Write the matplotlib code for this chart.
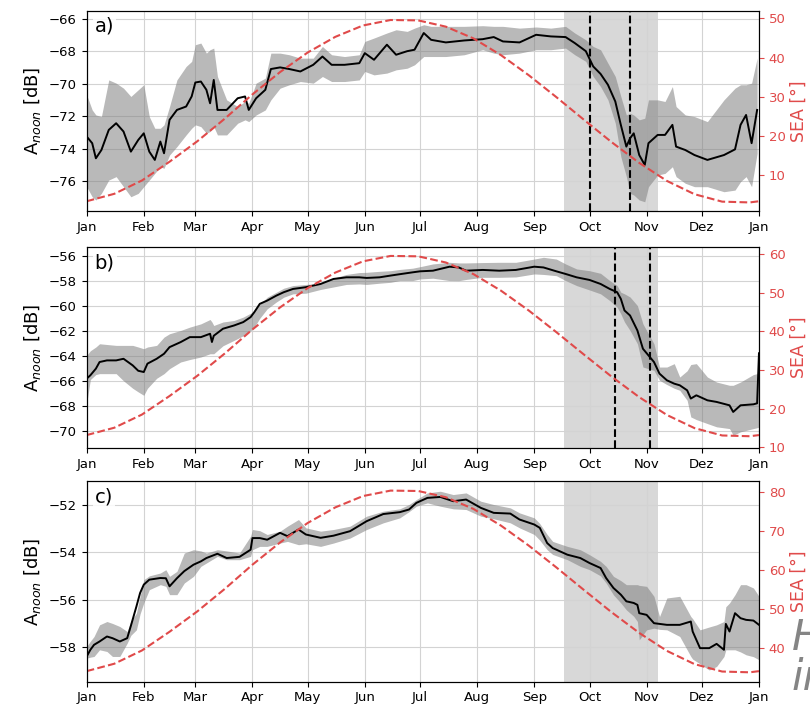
import numpy as np
import pandas as pd
import matplotlib
matplotlib.use("Agg")
import matplotlib.pyplot as plt

# seasonal noon attenuation, three stations, with SEA (solar elevation angle) on the right axis

year_start = pd.Timestamp("2021-01-01")
month_labels = ["Jan", "Feb", "Mar", "Apr", "May", "Jun", "Jul",
                "Aug", "Sep", "Oct", "Nov", "Dez", "Jan"]

# SEA at noon, read every 15 days (last point = next Jan 1)
sea_days = [0, 15, 30, 45, 60, 75, 90, 105, 120, 135, 150, 165, 180,
            195, 210, 225, 240, 255, 270, 285, 300, 315, 330, 345, 360, 365]
sea_a = [3.3, 5.2, 8.6, 13.4, 18.6, 24.4, 30.6, 36.3, 41.3, 45.3, 48.2, 49.6, 49.5,
         47.9, 44.9, 40.6, 35.5, 29.9, 24.1, 18.4, 13.1, 8.5, 5.1, 3.2, 3.0, 3.3]
sea_b = [13.2, 15.1, 18.5, 23.3, 28.5, 34.3, 40.5, 46.2, 51.2, 55.2, 58.1, 59.5, 59.4,
         57.8, 54.8, 50.5, 45.4, 39.8, 34.0, 28.3, 23.0, 18.4, 15.0, 13.1, 12.9, 13.2]
sea_c = [34.1, 36.0, 39.4, 44.2, 49.4, 55.2, 61.4, 67.1, 72.1, 76.1, 79.0, 80.4, 80.3,
         78.7, 75.7, 71.4, 66.3, 60.7, 54.9, 49.2, 43.9, 39.3, 35.9, 34.0, 33.8, 34.1]

# panel a
days_a = [0, 3, 5, 8, 12, 16, 20, 24, 28, 31, 34, 37, 40, 42, 45, 49, 54, 57, 59, 62,
          65, 67, 69, 71, 76, 82, 86, 88, 92, 97, 100, 105, 110, 116, 123, 128, 133, 140,
          148, 151, 156, 163, 168, 174, 178, 183, 187, 195, 205, 215, 221, 226, 235, 244,
          252, 260, 265, 271, 275, 279, 283, 287, 290, 293, 295, 297, 300, 303, 305, 310,
          314, 318, 320, 325, 330, 337, 346, 352, 355, 358, 361, 364]
mean_a = [-73.26, -73.67, -74.6, -74.09, -72.85, -72.44, -72.95, -74.19, -73.47, -73.06,
          -74.19, -74.7, -73.57, -74.29, -72.23, -71.62, -71.41, -70.79, -69.93, -69.87,
          -70.38, -71.21, -69.77, -71.62, -71.62, -70.9, -70.79, -71.62, -70.9, -70.38,
          -69.1, -69.0, -69.1, -69.25, -68.84, -68.33, -68.84, -68.84, -68.74, -68.12,
          -68.53, -67.6, -68.22, -68.0, -67.91, -66.88, -67.3, -67.46, -67.34, -67.26,
          -67.13, -67.4, -67.46, -66.99, -67.09, -67.13, -67.5, -68.0, -68.94, -69.4,
          -70.07, -71.1, -72.54, -73.88, -73.37, -73.06, -74.4, -75.01, -73.67, -73.16,
          -73.16, -72.54, -73.88, -74.09, -74.4, -74.7, -74.4, -74.05, -72.54, -71.93,
          -73.67, -71.62]
hi_a = [-70.69, -71.62, -71.93, -72.03, -69.77, -69.97, -70.28, -70.79, -70.38, -70.07,
        -72.03, -72.75, -72.75, -72.54, -71.41, -69.77, -68.94, -68.63, -67.6, -67.5,
        -68.12, -67.91, -67.81, -69.56, -71.0, -71.41, -71.1, -71.21, -69.97, -69.66,
        -68.12, -68.12, -68.22, -68.43, -68.43, -67.71, -68.22, -68.33, -68.22, -67.4,
        -67.19, -66.88, -66.68, -66.78, -66.58, -66.37, -66.47, -66.47, -66.47, -66.43,
        -66.47, -66.47, -66.58, -66.51, -66.58, -66.47, -66.88, -67.3, -67.71, -67.91,
        -68.74, -69.56, -70.79, -71.93, -71.82, -71.93, -72.23, -72.13, -71.0, -71.0,
        -71.1, -70.18, -71.41, -71.93, -72.03, -72.34, -71.0, -70.28, -70.07, -70.07,
        -69.97, -68.43]
lo_a = [-76.35, -76.97, -77.17, -76.76, -75.94, -75.73, -76.35, -76.97, -76.76, -76.35,
        -75.94, -75.53, -75.12, -75.22, -74.4, -73.88, -73.16, -72.75, -72.54, -72.65,
        -73.06, -72.95, -72.65, -73.16, -73.16, -72.44, -72.23, -72.34, -71.93, -71.62,
        -71.0, -70.28, -70.07, -69.87, -69.97, -69.56, -69.87, -69.87, -69.77, -69.25,
        -69.46, -69.35, -69.15, -69.05, -68.84, -68.33, -68.33, -68.33, -68.22, -67.91,
        -68.12, -68.22, -68.12, -67.91, -67.91, -67.81, -68.22, -68.63, -69.56, -70.18,
        -71.0, -72.44, -74.5, -75.73, -76.76, -76.86, -77.17, -77.28, -76.35, -75.63,
        -75.53, -75.12, -75.73, -76.14, -76.35, -76.35, -76.66, -76.56, -76.04, -75.73,
        -76.35, -74.29]

# panel b
days_b = [0, 2, 5, 7, 11, 16, 20, 25, 28, 31, 33, 38, 42, 45, 51, 56, 62, 67, 68, 69,
          74, 80, 85, 89, 91, 94, 98, 103, 107, 112, 119, 127, 134, 141, 148, 152, 159,
          165, 170, 177, 181, 188, 197, 202, 206, 215, 224, 233, 243, 248, 255, 260, 266,
          273, 279, 284, 288, 290, 292, 295, 299, 302, 308, 311, 315, 319, 322, 326, 328,
          331, 337, 342, 349, 351, 355, 362, 364, 365]
mean_b = [-65.83, -65.56, -65.03, -64.5, -64.37, -64.37, -64.24, -64.77, -65.2, -65.3,
          -64.63, -64.24, -63.84, -63.31, -62.91, -62.51, -62.51, -62.24, -62.9, -62.4,
          -61.84, -61.58, -61.31, -60.91, -60.52, -59.85, -59.59, -59.19, -58.92, -58.66,
          -58.52, -58.26, -57.86, -57.73, -57.73, -57.78, -57.73, -57.59, -57.48, -57.33,
          -57.25, -57.2, -56.88, -56.94, -57.2, -57.14, -57.2, -57.14, -56.88, -56.94,
          -57.25, -57.46, -57.73, -57.94, -58.26, -58.66, -58.92, -59.45, -60.38, -60.78,
          -61.98, -63.44, -64.5, -65.43, -65.96, -66.23, -66.36, -66.76, -67.42, -67.16,
          -67.56, -67.69, -67.96, -68.49, -67.96, -67.88, -67.8, -63.8]
hi_b = [-63.97, -63.6, -63.3, -63.04, -63.1, -63.17, -63.17, -63.17, -63.3, -63.44,
        -63.3, -63.17, -62.51, -62.24, -61.98, -61.71, -61.45, -61.1, -61.3, -61.58,
        -61.3, -61.18, -60.91, -60.6, -60.38, -59.9, -59.32, -58.92, -58.6, -58.39,
        -58.3, -58.2, -57.8, -57.5, -57.35, -57.33, -57.25, -57.2, -57.1, -57.0,
        -56.88, -56.66, -56.53, -56.58, -56.58, -56.55, -56.53, -56.53, -56.27, -56.13,
        -56.27, -56.66, -57.06, -57.2, -57.41, -57.99, -58.39, -58.92, -59.05, -59.3,
        -59.99, -61.45, -63.04, -64.9, -64.9, -64.63, -65.7, -65.2, -64.7, -64.63,
        -65.7, -66.1, -66.36, -66.36, -66.1, -65.5, -65.43, -64.63]
lo_b = [-67.82, -65.9, -65.5, -65.43, -65.43, -65.43, -66.0, -66.6, -66.89, -67.16,
        -66.6, -65.8, -65.43, -65.03, -64.5, -64.3, -64.1, -63.84, -63.84, -63.84,
        -63.2, -62.77, -62.4, -62.0, -61.71, -61.0, -60.25, -59.7, -59.32, -59.05,
        -59.0, -58.7, -58.5, -58.3, -58.26, -58.3, -58.2, -58.13, -57.99, -57.99,
        -57.86, -57.8, -57.99, -58.0, -57.9, -57.73, -57.73, -57.7, -57.46, -57.5,
        -57.6, -57.99, -58.39, -58.74, -59.05, -59.59, -60.12, -60.65, -61.3, -61.98,
        -63.04, -64.9, -65.17, -65.96, -66.3, -66.6, -66.76, -67.56, -68.89, -69.1,
        -69.42, -69.68, -69.82, -70.35, -70.08, -69.82, -69.75, -69.7]

# panel c
days_c = [0, 2, 4, 7, 11, 14, 18, 22, 24, 27, 29, 31, 34, 40, 43, 45, 49, 53, 58, 62,
          65, 71, 76, 83, 89, 90, 94, 98, 105, 109, 115, 119, 127, 134, 143, 152, 161,
          170, 175, 179, 185, 192, 199, 206, 214, 221, 230, 235, 243, 246, 250, 253, 261,
          268, 273, 279, 282, 286, 290, 293, 297, 299, 300, 304, 308, 311, 315, 322, 328,
          329, 333, 338, 342, 346, 347, 349, 352, 355, 358, 362, 365]
mean_c = [-58.39, -58.11, -57.9, -57.76, -57.55, -57.62, -57.76, -57.62, -57.1, -56.29,
          -55.72, -55.37, -55.16, -55.09, -55.1, -55.44, -55.1, -54.8, -54.53, -54.39,
          -54.25, -54.07, -54.25, -54.2, -53.9, -53.41, -53.41, -53.48, -53.19, -53.33,
          -53.05, -53.26, -53.4, -53.31, -53.12, -52.7, -52.4, -52.32, -52.21, -51.93,
          -51.72, -51.68, -51.86, -51.79, -52.14, -52.35, -52.38, -52.63, -52.84, -52.98,
          -53.62, -53.83, -54.11, -54.25, -54.46, -54.67, -55.09, -55.51, -55.79, -56.07,
          -56.14, -56.22, -56.57, -56.64, -56.99, -57.02, -57.06, -57.06, -56.92, -57.34,
          -58.04, -58.04, -57.86, -58.11, -57.02, -57.34, -56.57, -56.78, -56.85, -56.88,
          -57.06]
hi_c = [-57.97, -57.75, -57.55, -57.06, -56.92, -57.0, -57.13, -57.34, -56.9, -56.57,
        -55.86, -55.16, -55.0, -54.88, -54.74, -55.02, -54.81, -54.04, -53.9, -53.95,
        -54.04, -53.9, -53.95, -54.04, -53.33, -53.05, -53.1, -53.26, -53.12, -52.91,
        -52.63, -52.98, -53.12, -53.05, -52.91, -52.49, -52.28, -52.18, -52.0, -51.79,
        -51.51, -51.44, -51.58, -51.51, -51.86, -52.0, -52.14, -52.35, -52.56, -52.8,
        -53.26, -53.55, -53.76, -53.9, -54.11, -54.39, -54.6, -55.02, -55.2, -55.37,
        -55.37, -55.37, -55.4, -55.44, -55.86, -56.71, -55.93, -55.86, -56.71, -56.8,
        -57.27, -57.15, -57.06, -56.92, -56.3, -56.14, -55.79, -55.37, -55.37, -55.51,
        -55.86]
lo_c = [-58.46, -58.42, -58.39, -58.11, -58.18, -58.39, -58.39, -57.83, -57.5, -57.27,
        -56.6, -56.14, -55.58, -55.37, -55.44, -55.79, -55.79, -55.3, -55.02, -54.6,
        -54.46, -54.18, -54.32, -54.32, -54.18, -53.9, -53.76, -53.76, -53.62, -53.55,
        -53.69, -53.65, -53.76, -53.62, -53.41, -53.05, -52.77, -52.56, -52.3, -52.07,
        -51.93, -52.07, -52.18, -52.21, -52.49, -52.6, -52.77, -52.98, -53.26, -53.5,
        -53.9, -54.1, -54.32, -54.6, -54.74, -55.0, -55.3, -55.8, -56.14, -56.43,
        -56.7, -56.92, -57.69, -57.27, -57.2, -57.25, -57.27, -57.55, -58.39, -58.5,
        -58.7, -58.96, -58.81, -58.39, -58.11, -58.11, -58.11, -58.2, -58.32, -58.4,
        -58.53]

panel_labels = ["a)", "b)", "c)"]
shade_span = ("2021-09-17", "2021-11-07")
event_lines = [["2021-10-01", "2021-10-23"], ["2021-10-15", "2021-11-03"], []]

panels = [
    (days_a, mean_a, lo_a, hi_a, sea_a, [-76, -74, -72, -70, -68, -66], (-77.85, -65.5),
     [10, 20, 30, 40, 50], (0.8, 52.0)),
    (days_b, mean_b, lo_b, hi_b, sea_b, [-70, -68, -66, -64, -62, -60, -58, -56], (-71.36, -55.34),
     [10, 20, 30, 40, 50, 60], (9.9, 61.7)),
    (days_c, mean_c, lo_c, hi_c, sea_c, [-58, -56, -54, -52], (-59.45, -51.02),
     [40, 50, 60, 70, 80], (31.4, 82.8)),
]
bottoms = [0.7036, 0.3710, 0.0426]
red = "#e04a4a"


def to_dates(days):
    return year_start + pd.to_timedelta(np.array(days), unit="D")


fig = plt.figure(figsize=(8.1, 7.12), dpi=100)
month_ticks = pd.date_range("2021-01-01", "2022-01-01", freq="MS")
sea_dates = to_dates(sea_days)

for i, (d, m, lo, hi, sea, yt, yl, yt2, yl2) in enumerate(panels):
    ax = fig.add_axes([0.107, bottoms[i], 0.830, 0.2815])
    dates = to_dates(d)
    ax.axvspan(pd.Timestamp(shade_span[0]), pd.Timestamp(shade_span[1]),
               color="gray", alpha=0.3, lw=0, zorder=0)
    ax.fill_between(dates, lo, hi, color="gray", alpha=0.55, lw=0, zorder=1)
    ax.plot(dates, m, color="black", lw=1.4, zorder=3)
    for ev in event_lines[i]:
        ax.axvline(pd.Timestamp(ev), color="black", ls="--", lw=1.5, zorder=4)
    ax.set_xlim(month_ticks[0], month_ticks[-1])
    ax.set_ylim(*yl)
    ax.set_yticks(yt)
    ax.set_xticks(month_ticks)
    ax.set_xticklabels(month_labels)
    ax.tick_params(labelsize=9.5)
    ax.grid(True, color="#d3d3d3", lw=0.8)
    ax.set_axisbelow(True)
    ax.set_ylabel(r"A$_{noon}$ [dB]", fontsize=13, labelpad=4)
    ax.text(0.012, 0.97, panel_labels[i], transform=ax.transAxes, fontsize=14,
            va="top", ha="left", zorder=6,
            bbox=dict(facecolor="white", edgecolor="none", alpha=0.85, pad=1.5))

    ax2 = ax.twinx()
    ax2.plot(sea_dates, sea, color=red, ls="--", lw=1.5)
    ax2.set_ylim(*yl2)
    ax2.set_yticks(yt2)
    ax2.tick_params(axis="y", colors=red, labelsize=9.5)
    ax2.set_ylabel("SEA [°]", color=red, fontsize=12.5, labelpad=3)
    ax2.set_xlim(month_ticks[0], month_ticks[-1])

# bits of the surrounding slide text that show at the right edge
fig.text(792 / 810, 1 - 650 / 712, "H", fontsize=30, style="italic", color="#858585")
fig.text(792 / 810, 1 - 690 / 712, "in", fontsize=30, style="italic", color="#858585")

fig.savefig("out.png", dpi=100)
